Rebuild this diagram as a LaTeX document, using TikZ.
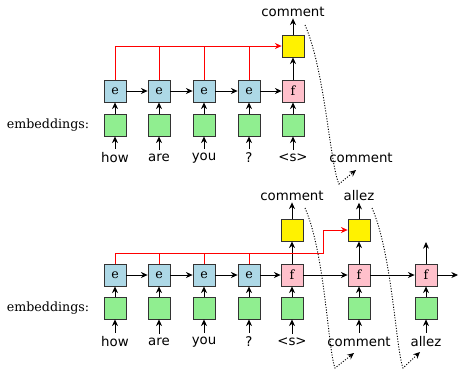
\documentclass[tikz,border=0pt]{standalone}
\usepackage{fontspec}
\setmainfont{DejaVu Serif}
\setsansfont{DejaVu Sans}
\usetikzlibrary{arrows.meta}
\definecolor{encblue}{RGB}{173,216,230}
\definecolor{decpink}{RGB}{255,192,203}
\definecolor{embgreen}{RGB}{144,238,144}
\begin{document}
\begin{tikzpicture}[x=0.75pt,y=-0.75pt,
		cell/.style={draw=black!80,line width=0.6pt,minimum size=16.5pt,inner sep=0pt,font=\fontsize{9.5}{11}\selectfont},
		encbox/.style={cell,fill=encblue},
		decbox/.style={cell,fill=decpink},
		embbox/.style={cell,fill=embgreen},
		outbox/.style={cell,fill=yellow},
		word/.style={font=\sffamily,inner sep=1pt},
		tag/.style={font=\fontsize{9.5}{11}\selectfont},
		>={Stealth[length=5pt,width=4.5pt]},
		link/.style={->,line width=0.6pt},
		attn/.style={red,line width=0.6pt},
		feed/.style={->,line width=0.7pt,dash pattern=on 0.8pt off 1.2pt}]
		\useasboundingbox (0,0) rectangle (459,369);

		% first pass: encoder, then one decoder step
		\node[tag] (labA) at (48,125) {embeddings:};
		\foreach \x/\w [count=\i] in {115/how,159/are,204/you,249/?} {
			\node[word] (wA\i) at (\x,158) {\w};
			\node[embbox] (gA\i) at (\x,125) {};
			\node[encbox] (eA\i) at (\x,91) {e};
			\draw[link,shorten <=2pt] (wA\i) -- (gA\i);
			\draw[link] (gA\i) -- (eA\i);
		}
		\node[word] (wA5) at (293,158) {<s>};
		\node[embbox] (gA5) at (293,125) {};
		\node[decbox] (fA) at (293,91) {f};
		\node[outbox] (oA) at (293,46) {};
		\node[word] (tA) at (293,12) {comment};
		\node[word] (nA) at (361,158) {comment};
		\draw[link,shorten <=2pt] (wA5) -- (gA5);
		\draw[link] (gA5) -- (fA);
		\draw[link] (fA) -- (oA);
		\draw[link] (oA) -- (tA);
		\draw[link] (eA1) -- (eA2);
		\draw[link] (eA2) -- (eA3);
		\draw[link] (eA3) -- (eA4);
		\draw[link] (eA4) -- (fA);
		\draw[attn,->] (eA1.north) |- (oA.west);
		\foreach \i in {2,3,4}
			\draw[attn] (eA\i.north) -- (eA\i.north |- oA.west);
		\coordinate (fbA) at (305,25);
		\coordinate (fbB) at (356,170);
		\draw[feed] (fbA) .. controls (325,70) and (330,165) .. (339,184) -- (fbB);

		% second pass: the decoder runs on
		\node[tag] (labB) at (48,308) {embeddings:};
		\foreach \x/\w [count=\i] in {115/how,159/are,204/you,249/?} {
			\node[word] (wB\i) at (\x,342) {\w};
			\node[embbox] (gB\i) at (\x,308) {};
			\node[encbox] (eB\i) at (\x,275) {e};
			\draw[link,shorten <=2pt] (wB\i) -- (gB\i);
			\draw[link] (gB\i) -- (eB\i);
		}
		\draw[link] (eB1) -- (eB2);
		\draw[link] (eB2) -- (eB3);
		\draw[link] (eB3) -- (eB4);
		\foreach \x/\w [count=\i] in {292/<s>,359/comment,426/allez} {
			\node[word] (wC\i) at (\x,342) {\w};
			\node[embbox] (gC\i) at (\x,308) {};
			\node[decbox] (fC\i) at (\x,275) {f};
			\draw[link,shorten <=2pt] (wC\i) -- (gC\i);
			\draw[link] (gC\i) -- (fC\i);
		}
		\draw[link] (eB4) -- (fC1);
		\draw[link] (fC1) -- (fC2);
		\draw[link] (fC2) -- (fC3);
		\coordinate (endC) at (458,275);
		\coordinate (upC) at (426,242);
		\draw[link] (fC3) -- (endC);
		\draw[link] (fC3) -- (upC);
		\node[outbox] (oC1) at (292,230) {};
		\node[outbox] (oC2) at (359,230) {};
		\node[word] (tC1) at (292,196) {comment};
		\node[word] (tC2) at (359,196) {allez};
		\draw[link] (fC1) -- (oC1);
		\draw[link] (fC2) -- (oC2);
		\draw[link] (oC1) -- (tC1);
		\draw[link] (oC2) -- (tC2);
		\coordinate (bendC) at (323,253);
		\draw[attn,->] (eB1.north) |- (bendC) |- (oC2.west);
		\foreach \i in {2,3,4}
			\draw[attn] (eB\i.north) -- (eB\i.north |- bendC);
		\coordinate (fbC) at (305,208);
		\coordinate (fbD) at (354,353);
		\coordinate (fbE) at (372,208);
		\coordinate (fbF) at (420,352);
		\draw[feed] (fbC) .. controls (325,253) and (328,350) .. (335,368) -- (fbD);
		\draw[feed] (fbE) .. controls (392,253) and (396,350) .. (403,368) -- (fbF);
	\end{tikzpicture}
\end{document}
